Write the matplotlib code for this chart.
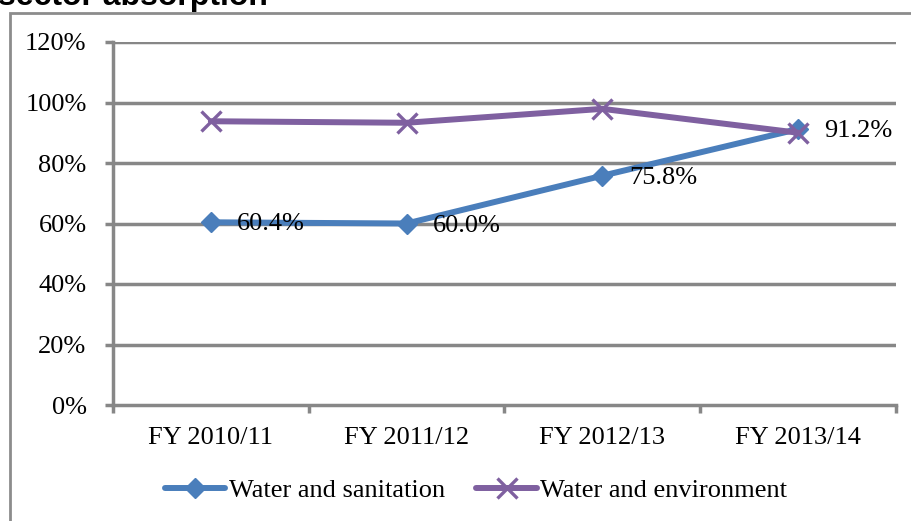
import matplotlib
matplotlib.use("Agg")
import matplotlib.pyplot as plt
from matplotlib.patches import Rectangle
from matplotlib.ticker import FixedLocator, NullFormatter

categories = ["FY 2010/11", "FY 2011/12", "FY 2012/13", "FY 2013/14"]
sanitation = [60.4, 60.0, 75.8, 91.2]
environment = [93.8, 93.3, 97.9, 90.0]
sanitation_labels = ["60.4%", "60.0%", "75.8%", "91.2%"]
yticks = [0, 20, 40, 60, 80, 100, 120]
ytick_labels = ["0%", "20%", "40%", "60%", "80%", "100%", "120%"]
title = "sector absorption"

W, H = 912, 521
fig = plt.figure(figsize=(W / 100, H / 100), dpi=100)
serif = ["Liberation Serif", "DejaVu Serif"]
plt.rcParams["font.family"] = serif
FS = 19

# outer frame
fig.patches.append(Rectangle((10 / W, -0.05), 1.2, 1 - 13 / H + 0.05,
                             transform=fig.transFigure, fill=False,
                             edgecolor="#8c8c8c", linewidth=2.0, zorder=0))
fig.text(-0.002, 1 - 5 / H, title, family=["Liberation Sans", "DejaVu Sans"],
         fontweight="bold", fontsize=23, ha="left", va="baseline")

ax = fig.add_axes([113 / W, 1 - 405 / H, (896 - 113) / W, (405 - 42) / H])
grid_c = "#878787"
x = list(range(len(categories)))

ax.set_ylim(0, 120)
ax.set_xlim(-0.5, len(categories) - 0.5)
ax.set_yticks(yticks)
ax.set_yticklabels(ytick_labels, fontsize=FS)
for y in yticks[1:]:
    ax.axhline(y, color=grid_c, linewidth=2.5, zorder=1)

ax.xaxis.set_major_locator(FixedLocator([i - 0.5 for i in range(len(categories) + 1)]))
ax.xaxis.set_major_formatter(NullFormatter())
ax.xaxis.set_minor_locator(FixedLocator(x))
ax.set_xticklabels(categories, minor=True, fontsize=FS)
ax.tick_params(axis="x", which="minor", length=0, pad=16)
ax.tick_params(axis="x", which="major", length=6, width=2.5, color=grid_c, direction="out")
ax.tick_params(axis="y", length=6, width=2.5, color=grid_c, direction="out", pad=13)

for s in ["top", "right"]:
    ax.spines[s].set_visible(False)
for s in ["left", "bottom"]:
    ax.spines[s].set_color(grid_c)
    ax.spines[s].set_linewidth(2.5)

blue = "#4a7ebb"
purple = "#7f60a0"
ax.plot(x, sanitation, color=blue, linewidth=4.3, marker="D", markersize=10.5,
        markeredgecolor=blue, markerfacecolor=blue, label="Water and sanitation",
        zorder=3, solid_capstyle="round")
ax.plot(x, environment, color=purple, linewidth=4.3, marker="x", markersize=14,
        markeredgewidth=2.4, markeredgecolor=purple, label="Water and environment",
        zorder=4, solid_capstyle="round")

for xi, v, lab in zip(x, sanitation, sanitation_labels):
    ax.annotate(lab, (xi, v), xytext=(19, -1.5), textcoords="offset points",
                ha="left", va="center", fontsize=FS, zorder=5)

leg = fig.legend(loc="center", bbox_to_anchor=(476 / W, 1 - 490 / H), ncol=2,
                 frameon=False, fontsize=FS, handlelength=2.3, handletextpad=0.12,
                 columnspacing=1.2)

fig.savefig("out.png", dpi=100)
